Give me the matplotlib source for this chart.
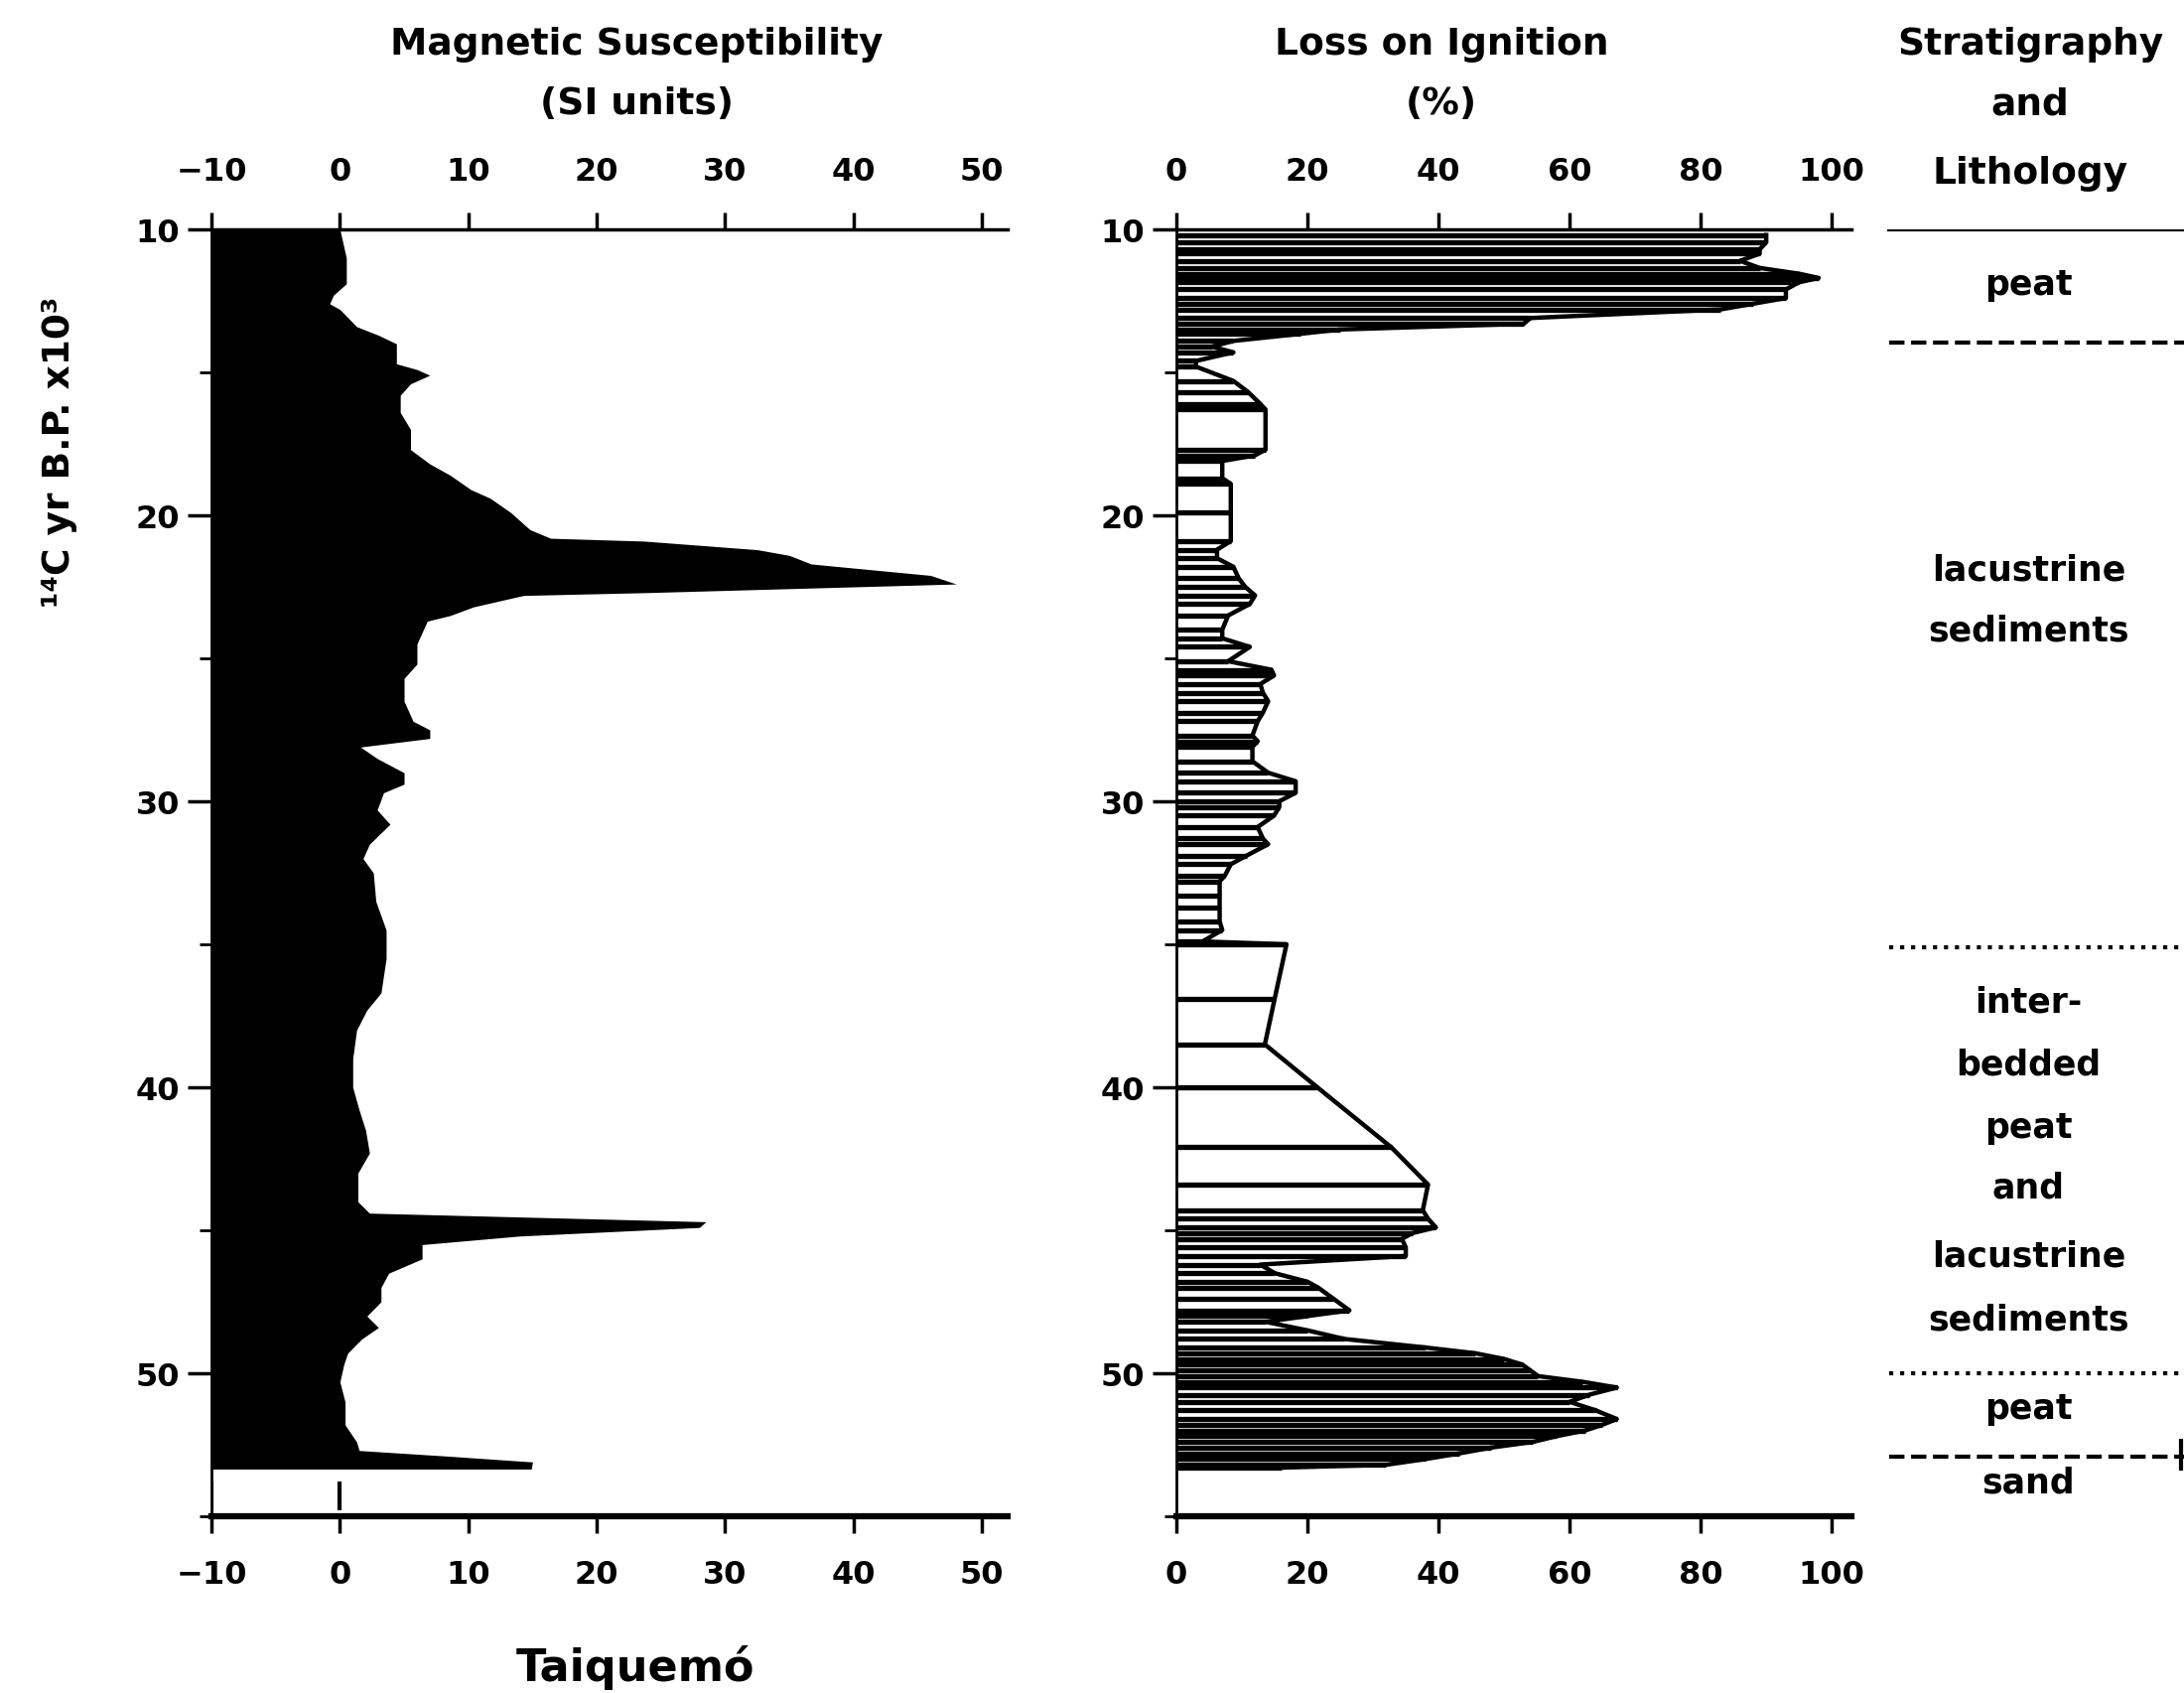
import matplotlib
matplotlib.use('Agg')
import matplotlib.pyplot as plt
from matplotlib.ticker import MultipleLocator

plt.rcParams['font.family'] = ['DejaVu Sans']
plt.rcParams['font.weight'] = 'bold'

# magnetic susceptibility (SI units) against age (14C yr BP x 10^3)
ms_age = [10.0, 11.0, 11.9, 12.3, 12.6, 12.8, 13.4, 13.7, 14.0, 14.7, 14.9, 15.1, 15.4, 15.8,
          16.4, 17.0, 17.7, 18.2, 18.6, 19.1, 19.4, 19.9, 20.5, 20.8, 20.9, 21.2, 21.4, 21.7,
          22.1, 22.4, 22.7, 22.8, 23.2, 23.5, 23.7, 24.5, 25.2, 25.7, 26.5, 27.2, 27.5, 27.8,
          28.1, 28.5, 29.0, 29.4, 29.7, 30.3, 30.8, 31.5, 32.0, 32.5, 33.5, 34.5, 35.5, 36.7,
          37.3, 38.0, 39.0, 40.0, 40.8, 41.5, 42.3, 43.0, 44.0, 44.4, 44.7, 44.9, 45.2, 45.5,
          46.0, 46.5, 47.0, 47.5, 48.0, 48.4, 48.8, 49.3, 49.7, 50.3, 51.0, 51.8, 52.4, 52.7,
          52.9, 53.1, 53.35]
ms_val = [0, 0.5, 0.5, -0.5, -0.8, 0, 1.3, 3, 4.4, 4.4, 6, 7, 5.5, 4.7,
          4.7, 5.5, 5.5, 7, 8.6, 10.2, 11.7, 13.3, 14.8, 16.4, 23.7, 32.5, 35, 36.7,
          46, 48, 24, 14.3, 10.4, 8.6, 6.8, 6, 6, 5, 5, 5.7, 7, 7,
          1.6, 2.9, 5, 5, 3.4, 2.9, 3.9, 2.3, 1.8, 2.6, 2.8, 3.6, 3.6, 3.2,
          2.1, 1.3, 1.0, 1.0, 1.5, 2.0, 2.3, 1.4, 1.4, 2.3, 28.5, 28.0, 14, 6.4,
          6.4, 3.8, 3.2, 3.2, 2.1, 3.0, 1.7, 0.6, 0.3, 0, 0.4, 0.4, 1.3, 1.5,
          8.5, 15, 14.9]

# loss on ignition (%) against age
loi_age = [10.2, 10.45, 10.7, 10.85, 11.1, 11.35, 11.55, 11.7, 11.85, 12.1, 12.4, 12.6, 12.8,
           13.1, 13.3, 13.5, 13.65, 13.9, 14.1, 14.3, 14.6, 14.8, 15.3, 15.7, 16.1, 16.3,
           17.7, 17.9, 18.1, 18.7, 18.9, 19.9, 20.9, 21.2, 21.5, 21.8, 22.2, 22.5, 22.8,
           23.1, 23.5, 24.0, 24.3, 24.6, 25.1, 25.4, 25.6, 25.9, 26.2, 26.5, 26.9, 27.2,
           27.7, 27.9, 28.1, 28.6, 29.0, 29.3, 29.7, 30.0, 30.2, 30.5, 30.9, 31.3, 31.5,
           31.9, 32.2, 32.6, 32.8, 33.3, 33.7, 34.2, 34.5, 34.9, 35.0, 36.9, 38.5, 40.0,
           42.1, 43.4, 44.3, 44.6, 44.9, 45.1, 45.3, 45.6, 45.9, 46.2, 46.5, 46.8, 47.0,
           47.4, 47.8, 48.0, 48.2, 48.5, 48.8, 49.1, 49.3, 49.5, 49.7, 49.9, 50.1, 50.3,
           50.5, 50.75, 51.0, 51.3, 51.6, 51.8, 52.0, 52.2, 52.4, 52.6, 52.8, 53.0, 53.2,
           53.3]
loi_val = [90, 90, 89, 89, 86, 89, 95, 98, 95, 93, 93, 88, 83,
           54, 53, 25, 19, 8.7, 5.4, 8.7, 3, 3, 8.7, 11, 12.8, 13.6,
           13.6, 12, 7, 7, 8.3, 8.3, 8.3, 6.2, 6.2, 8.7, 9.5, 10.5, 12,
           11.2, 7.9, 7, 7, 11.2, 7.9, 14.5, 14.9, 12.8, 13.2, 14, 13.2, 12.4,
           11.6, 12.4, 11.6, 11.6, 14, 18.2, 18.2, 15.7, 15.7, 14.9, 12.4, 13.2, 14,
           10.7, 8.3, 7.4, 6.6, 6.6, 6.6, 6.6, 7, 4, 16.8, 15, 13.5, 21.5,
           32.8, 38.4, 37.6, 38.4, 39.6, 36, 34.4, 35, 35, 12.8, 15, 20, 21.6,
           24, 26.4, 20, 13.6, 20, 25.6, 38, 45.6, 50, 52.8, 54, 55.2, 62,
           67.2, 63, 60, 64, 67.2, 65, 62.4, 58, 54.4, 48, 43.2, 38, 32,
           16]

ms_ticks = [-10, 0, 10, 20, 30, 40, 50]
loi_ticks = [0, 20, 40, 60, 80, 100]
age_ticks = [10, 20, 30, 40, 50]

# stratigraphy column
strat_bounds = [10.0, 13.95, 35.1, 50.0, 52.9]
strat_styles = ['-', '--', ':', ':', '--']
strat_text = ['peat', 'lacustrine', 'sediments', 'inter-', 'bedded', 'peat', 'and',
              'lacustrine', 'sediments', 'peat', 'sand']
strat_text_age = [11.9, 21.9, 24.0, 37.0, 39.2, 41.4, 43.5, 45.9, 48.1, 51.2, 53.8]

W, H = 2200, 1706
fig = plt.figure(figsize=(22, 17.06), dpi=100)


def box(x0, x1, y0, y1):
    return [x0 / W, 1 - y1 / H, (x1 - x0) / W, (y1 - y0) / H]


def style_axis(ax):
    ax.set_ylim(55, 10)
    ax.yaxis.set_major_locator(plt.FixedLocator(age_ticks))
    ax.yaxis.set_minor_locator(MultipleLocator(5))
    ax.tick_params(axis='y', which='major', direction='out', length=17, width=2.5,
                   pad=6, labelsize=23)
    ax.tick_params(axis='y', which='minor', direction='out', length=9, width=2)
    ax.tick_params(axis='x', which='major', top=True, labeltop=True, bottom=True,
                   labelbottom=True, direction='out', width=2.5, labelsize=23,
                   length=12, pad=19)
    ax.spines['right'].set_visible(False)
    ax.spines['top'].set_linewidth(2.5)
    ax.spines['bottom'].set_linewidth(4.5)
    ax.spines['left'].set_linewidth(2)
    for lab in ax.get_xticklabels() + ax.get_yticklabels():
        lab.set_fontweight('bold')


# magnetic susceptibility
ax1 = fig.add_axes(box(213, 1015, 232, 1528))
ax1.fill_betweenx(ms_age, -10, ms_val, color='black', lw=0)
ax1.vlines([-10, 0], 53.8, 54.8, color='black', lw=3)
ax1.set_xlim(-10, 52)
ax1.set_xticks(ms_ticks)
ax1.set_xticklabels(['\u221210', '0', '10', '20', '30', '40', '50'])
style_axis(ax1)

# loss on ignition
ax2 = fig.add_axes(box(1185, 1865, 232, 1528))
ax2.hlines(loi_age, 0, loi_val, color='black', lw=3.8)
ax2.plot(loi_val, loi_age, color='black', lw=3.2)
ax2.set_xlim(0, 103)
ax2.set_xticks(loi_ticks)
style_axis(ax2)

# stratigraphy and lithology column
ax3 = fig.add_axes(box(1887, 2200, 232, 1528))
ax3.set_ylim(55, 10)
ax3.set_xlim(0, 1)
ax3.axis('off')
for b, s in zip(strat_bounds, strat_styles):
    ax3.plot([0.05, 1.0], [b, b], color='black', lw=3, ls=s)
ax3.vlines(0.99, 52.3, 53.4, color='black', lw=3)
for t, a in zip(strat_text, strat_text_age):
    ax3.text(0.5, a, t, ha='center', va='center', fontsize=25, fontweight='bold')

# headers
fig.text(641 / W, 1 - 45 / H, 'Magnetic Susceptibility', ha='center', va='center',
         fontsize=27, fontweight='bold')
fig.text(641 / W, 1 - 105 / H, '(SI units)', ha='center', va='center',
         fontsize=27, fontweight='bold')
fig.text(1452 / W, 1 - 45 / H, 'Loss on Ignition', ha='center', va='center',
         fontsize=27, fontweight='bold')
fig.text(1452 / W, 1 - 105 / H, '(%)', ha='center', va='center',
         fontsize=27, fontweight='bold')
fig.text(2045 / W, 1 - 45 / H, 'Stratigraphy', ha='center', va='center',
         fontsize=27, fontweight='bold')
fig.text(2045 / W, 1 - 105 / H, 'and', ha='center', va='center',
         fontsize=27, fontweight='bold')
fig.text(2045 / W, 1 - 175 / H, 'Lithology', ha='center', va='center',
         fontsize=27, fontweight='bold')
fig.text(60 / W, 1 - 455 / H, '\u00b9\u2074C yr B.P. x10\u00b3', ha='center', va='center',
         rotation=90, fontsize=27, fontweight='bold')
fig.text(640 / W, 1 - 1680 / H, 'Taiquemó', ha='center', va='center',
         fontsize=32, fontweight='bold')

fig.savefig('out.png', dpi=100, facecolor='white')
